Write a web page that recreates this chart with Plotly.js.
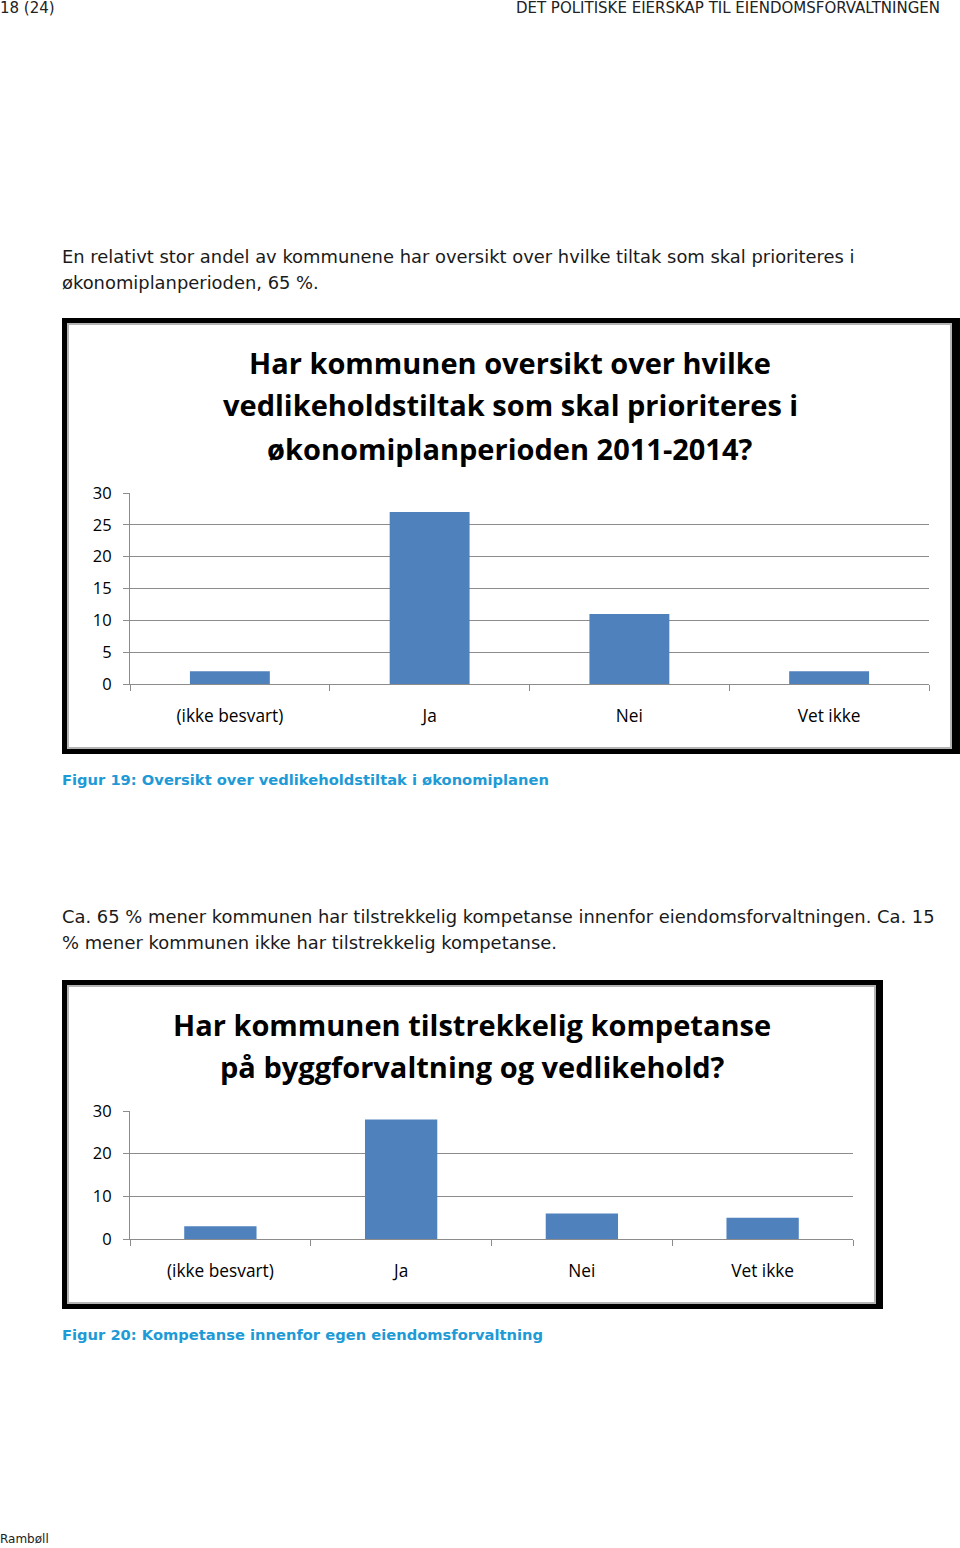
<!DOCTYPE html>
<html>
<head>
<meta charset="utf-8">
<script src="https://cdn.plot.ly/plotly-3.0.1.min.js"></script>
<style>
  html, body { margin:0; padding:0; background:#fff; }
  body { width:960px; height:1548px; position:relative; overflow:hidden; font-family:"DejaVu Sans", Verdana, sans-serif; color:#1a1a1a; }
  .abs { position:absolute; white-space:nowrap; }
  .hdr { font-size:15px; line-height:16px; color:#222; }
  .para { font-size:17.9px; line-height:26px; color:#1a1a1a; }
  .cap { font-size:14.7px; font-weight:bold; color:#1e9ad6; }
  .outer { position:absolute; background:#000; }
  .inner { position:absolute; background:#fff; border:2px solid #b4b4b4; box-sizing:border-box; }
  .plot { position:absolute; }
</style>
</head>
<body>
<div class="abs hdr" style="left:0;top:0px;">18 (24)</div>
<div class="abs hdr" style="right:20px;top:0px;">DET POLITISKE EIERSKAP TIL EIENDOMSFORVALTNINGEN</div>

<div class="abs para" style="left:62px;top:244px;">En relativt stor andel av kommunene har oversikt over hvilke tiltak som skal prioriteres i<br>økonomiplanperioden, 65 %.</div>

<div class="outer" style="left:62px;top:318px;width:898px;height:436px;"></div>
<div class="inner" style="left:67px;top:323px;width:885px;height:426px;"></div>
<div id="chart1" class="plot" style="left:69px;top:325px;width:881px;height:422px;"></div>

<div class="abs cap" style="left:62px;top:771px;">Figur 19: Oversikt over vedlikeholdstiltak i økonomiplanen</div>

<div class="abs para" style="left:62px;top:904px;">Ca. 65 % mener kommunen har tilstrekkelig kompetanse innenfor eiendomsforvaltningen. Ca. 15<br>% mener kommunen ikke har tilstrekkelig kompetanse.</div>

<div class="outer" style="left:62px;top:980px;width:821px;height:329px;"></div>
<div class="inner" style="left:67px;top:985px;width:809px;height:319px;"></div>
<div id="chart2" class="plot" style="left:69px;top:987px;width:805px;height:315px;"></div>

<div class="abs cap" style="left:62px;top:1326px;">Figur 20: Kompetanse innenfor egen eiendomsforvaltning</div>

<div class="abs" style="left:0;top:1532px;font-size:12px;color:#222;">Rambøll</div>

<script>
// ---- data ----
var categories = ["(ikke besvart)", "Ja", "Nei", "Vet ikke"];
var tiltakValues = [2, 27, 11, 2];
var kompetanseValues = [3, 28, 6, 5];
var title1Lines = ["Har kommunen oversikt over hvilke", "vedlikeholdstiltak som skal prioriteres i", "økonomiplanperioden 2011-2014?"];
var title2Lines = ["Har kommunen tilstrekkelig kompetanse", "på byggforvaltning og vedlikehold?"];

var FONT = "Open Sans, Lato, sans-serif";
var barColor = "#4f81bd";
var gridColor = "#8c8c8c";

function makeChart(id, values, titleLines, opts) {
  var plotH = opts.height - opts.t - opts.b;
  var anns = titleLines.map(function(txt, i) {
    var ypx = opts.titleY[i]; // distance above plot bottom in px
    return {
      text: "<b>" + txt + "</b>",
      xref: "paper", yref: "paper",
      x: opts.titleX, y: ypx / plotH,
      xanchor: "center", yanchor: "middle",
      showarrow: false,
      font: {family: FONT, size: opts.titleSize, color: "#000"}
    };
  });
  var trace = {
    type: "bar", x: categories, y: values,
    marker: {color: barColor, line: {width: 0}},
    hoverinfo: "x+y"
  };
  var layout = {
    width: opts.width, height: opts.height,
    margin: {l: opts.l, r: opts.r, t: opts.t, b: opts.b, pad: 0},
    paper_bgcolor: "#fff", plot_bgcolor: "#fff",
    bargap: 0.6,
    showlegend: false,
    font: {family: FONT, size: 16, color: "#000"},
    xaxis: {
      type: "category", tickson: "boundaries",
      ticks: "outside", ticklen: 6, tickcolor: gridColor, tickwidth: 1,
      showline: true, linecolor: gridColor, linewidth: 1,
      showgrid: false, zeroline: false,
      tickfont: {family: FONT, size: 17.3, color: "#000"},
      ticklabelstandoff: 16
    },
    yaxis: {
      range: [0, 30], dtick: opts.dtick, tick0: 0,
      ticks: "outside", ticklen: 6, tickcolor: gridColor, tickwidth: 1,
      showline: true, linecolor: gridColor, linewidth: 1,
      showgrid: true, gridcolor: gridColor, gridwidth: 1,
      zeroline: false,
      tickfont: {family: FONT, size: 16.5, color: "#000"},
      ticklabelstandoff: 8
    },
    annotations: anns
  };
  Plotly.newPlot(id, [trace], layout, {staticPlot: true, displayModeBar: false});
}

// chart 1: plot area 130..929 x 493..684 (page px)
makeChart("chart1", tiltakValues, title1Lines, {
  width: 881, height: 422, l: 61, r: 21, t: 168, b: 63, dtick: 5,
  titleX: (510 - 130) / 799,
  titleY: [684 - 362, 684 - 405, 684 - 448],
  titleSize: 29
});
// chart 2: plot area 130..853 x 1111..1239
makeChart("chart2", kompetanseValues, title2Lines, {
  width: 805, height: 315, l: 61, r: 21, t: 124, b: 63, dtick: 10,
  titleX: (472 - 130) / 723,
  titleY: [1239 - 1024, 1239 - 1066],
  titleSize: 29
});
</script>
</body>
</html>
